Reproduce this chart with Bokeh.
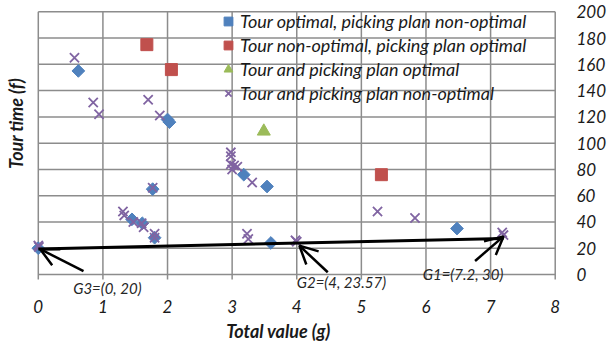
import math
from bokeh.plotting import figure
from bokeh.models import (Legend, LegendItem, Label, Arrow, OpenHead, FixedTicker,
                          LinearAxis, Range1d)
from bokeh.embed import file_html
from bokeh.resources import INLINE

FONT = "Lato"
GRID = "#8c8c8c"
TXT = "#1a1a1a"

# ---- data ----
x_ticks = [0, 1, 2, 3, 4, 5, 6, 7, 8]
y_ticks = [0, 20, 40, 60, 80, 100, 120, 140, 160, 180, 200]

s1_name = "Tour optimal, picking plan non-optimal"
s1_x = [0.62, 2.00, 2.03, 1.77, 1.45, 1.61, 1.80, 0.00, 3.18, 3.54, 3.60, 6.48]
s1_y = [155, 118, 116, 65, 42, 39, 28, 20, 76, 67, 24, 35]

s2_name = "Tour non-optimal, picking plan optimal"
s2_x = [1.68, 2.06, 5.31]
s2_y = [175, 156, 76]

s3_name = "Tour and picking plan optimal"
s3_x = [3.49]
s3_y = [109]

s4_name = "Tour and picking plan non-optimal"
s4_x = [0.56, 0.85, 0.94, 1.70, 1.88, 2.98, 2.98, 2.98, 3.03, 3.08, 3.00, 3.31,
        1.77, 1.31, 1.33, 1.47, 1.60, 1.63, 1.80, 1.80, 3.23, 3.25, 4.00, 3.98,
        5.25, 5.83, 7.20, 7.18, 0.00, 0.01]
s4_y = [165, 131, 122, 133, 121, 93, 90, 84, 83, 82, 80, 70,
        66, 48, 45, 40, 39, 36, 31, 28, 31, 27, 25, 26,
        48, 43, 30, 32, 22, 21]

# connecting line G3 -> G1 (as drawn)
trend_x = [0.0, 7.2]
trend_y = [19.5, 27.5]

# annotations: text, label position, arrow start, arrow end
ann_text = ["G3=(0, 20)", "G2=(4, 23.57)", "G1=(7.2, 30)"]
ann_lx = [0.54, 4.0, 5.95]
ann_ly = [-10.5, -5.6, 0.4]
arr_x0 = [0.70, 4.48, 6.76]
arr_y0 = [2.5, 1.7, 10.3]
arr_x1 = [0.03, 4.04, 7.20]
arr_y1 = [19.3, 22.0, 29.0]

# ---- figure: frame extends below/left of the plot area so annotations show ----
X0, X1 = -0.585, 8.02
Y1 = 201.0
H_FRAME = 288
K = 264 / Y1                 # px per y unit
Y0 = Y1 - H_FRAME / K
p = figure(width=609, height=348, output_backend="svg", toolbar_location=None,
           x_range=Range1d(X0, X1), y_range=Range1d(Y0, Y1),
           x_axis_location=None, y_axis_location=None,
           min_border_left=0, min_border_right=50, min_border_top=10, min_border_bottom=50)
p.background_fill_color = "white"
p.border_fill_color = "white"
p.outline_line_color = None
p.xgrid.visible = False
p.ygrid.visible = False

tick_len = 5 / K

# grid: vertical lines (with tick marks below) and horizontal lines
p.segment(x0=x_ticks, y0=[y_ticks[0] - tick_len] * len(x_ticks),
          x1=x_ticks, y1=[y_ticks[-1]] * len(x_ticks),
          line_color=GRID, line_width=1.5)
p.segment(x0=[x_ticks[0]] * len(y_ticks), y0=y_ticks,
          x1=[x_ticks[-1]] * len(y_ticks), y1=y_ticks,
          line_color=GRID, line_width=1.5)

xax = LinearAxis(ticker=FixedTicker(ticks=x_ticks), axis_label="Total value (g)")
xax.axis_line_color = None
xax.major_tick_line_color = None
xax.major_tick_out = 0
xax.major_tick_in = 0
xax.minor_tick_line_color = None
xax.major_label_standoff = 1
xax.major_label_text_font = FONT
xax.major_label_text_font_size = "17px"
xax.major_label_text_font_style = "italic"
xax.major_label_text_color = TXT
xax.axis_label_text_font = FONT
xax.axis_label_text_font_size = "18px"
xax.axis_label_text_font_style = "bold italic"
xax.axis_label_text_color = TXT
xax.axis_label_standoff = 4
p.add_layout(xax, "below")

yax = LinearAxis(ticker=FixedTicker(ticks=y_ticks))
yax.axis_line_color = None
yax.major_tick_line_color = None
yax.major_tick_out = 0
yax.major_tick_in = 0
yax.minor_tick_line_color = None
yax.major_label_standoff = 20
yax.major_label_text_font = FONT
yax.major_label_text_font_size = "17px"
yax.major_label_text_font_style = "italic"
yax.major_label_text_color = TXT
p.add_layout(yax, "right")

r1 = p.scatter(s1_x, s1_y, marker="square", size=9, angle=math.pi / 4,
               fill_color="#4F81BD", line_color="#4F81BD")
r2 = p.scatter(s2_x, s2_y, marker="square", size=12,
               fill_color="#C0504D", line_color="#C0504D")
r3 = p.scatter(s3_x, s3_y, marker="triangle", size=13,
               fill_color="#9BBB59", line_color="#9BBB59")
r4 = p.scatter(s4_x, s4_y, marker="x", size=13, line_width=1.8,
               line_color="#8064A2")

p.line(trend_x, trend_y, line_color="black", line_width=3)

for i in range(len(ann_text)):
    p.add_layout(Arrow(end=OpenHead(size=18, line_width=2.5, line_color="black"),
                       x_start=arr_x0[i], y_start=arr_y0[i],
                       x_end=arr_x1[i], y_end=arr_y1[i],
                       line_width=2.5, line_color="black"))
    p.add_layout(Label(x=ann_lx[i], y=ann_ly[i], text=ann_text[i],
                       text_align="left", text_baseline="middle",
                       text_font=FONT, text_font_size="15px",
                       text_font_style="italic", text_color="#262626"))

p.add_layout(Label(x=-0.34, y=115, text="Tour time (f)", angle=math.pi / 2,
                   text_align="center", text_baseline="middle",
                   text_font=FONT, text_font_size="18px",
                   text_font_style="bold italic", text_color=TXT))

legend = Legend(items=[LegendItem(label=s1_name, renderers=[r1]),
                       LegendItem(label=s2_name, renderers=[r2]),
                       LegendItem(label=s3_name, renderers=[r3]),
                       LegendItem(label=s4_name, renderers=[r4])],
                location=(216, H_FRAME - 94))
legend.label_text_font = FONT
legend.label_text_font_size = "18px"
legend.label_text_font_style = "italic"
legend.label_text_color = TXT
legend.glyph_width = 24
legend.glyph_height = 22
legend.label_height = 22
legend.spacing = 2
legend.padding = 0
legend.margin = 0
legend.label_standoff = 0
legend.background_fill_alpha = 0
legend.border_line_color = None
p.add_layout(legend)

open("out.html", "w").write(file_html(p, INLINE))
